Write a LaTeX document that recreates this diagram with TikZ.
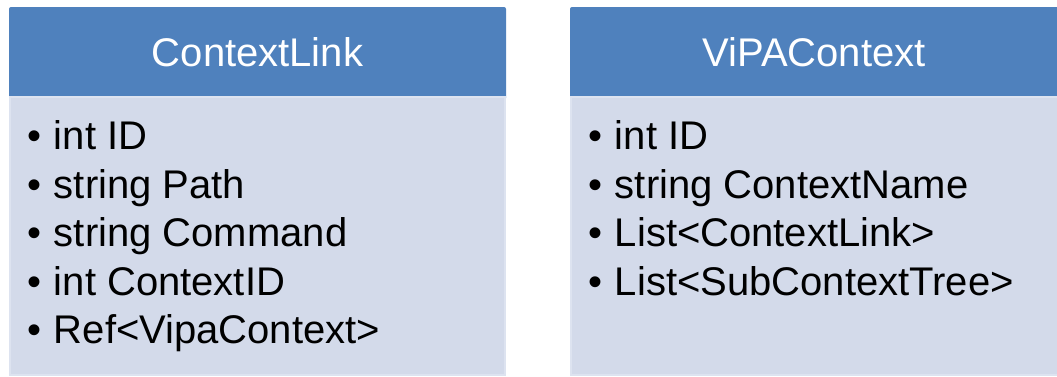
\documentclass[tikz,border=0pt]{standalone}
\usepackage{fontspec}
\setmainfont{Liberation Sans}

\definecolor{headblue}{HTML}{4F81BD}
\definecolor{bodyblue}{HTML}{D3DAEA}
\definecolor{bodyedge}{HTML}{DDE3F0}

\newcommand{\fieldbullet}{\makebox[20pt][l]{\textbullet}}

\begin{document}
\begin{tikzpicture}[x=0.75pt, y=-0.75pt,
    headbox/.style={fill=headblue, rounded corners=1.5pt},
    bodybox/.style={fill=bodyblue, draw=bodyedge, line width=1.2pt},
    title/.style={text=white, anchor=base, inner sep=0pt, font=\fontsize{30}{36}\selectfont},
    field/.style={anchor=base west, inner sep=0pt, font=\fontsize{30}{36}\selectfont}]
    \useasboundingbox (0,0) rectangle (1057,376);

    % Left class: ContextLink
    \fill[headbox] (9,7) rectangle (506,100);
    \filldraw[bodybox] (9.8,97) rectangle (505.2,375);
    \node[title] (linkTitle) at (257.5,66) {ContextLink};
    \foreach \txt [count=\i] in {int ID, string Path, string Command, int ContextID, Ref<VipaContext>}
        \node[field] (link\i) at (27,{101+48.5*\i}) {\fieldbullet\txt};

    % Right class: ViPAContext
    \fill[headbox] (570,7) rectangle (1060,100);
    \filldraw[bodybox] (570.8,97) rectangle (1060,375);
    \node[title] (vipaTitle) at (814,66) {ViPAContext};
    \foreach \txt [count=\i] in {int ID, string ContextName, List<ContextLink>, List<SubContextTree>}
        \node[field] (vipa\i) at (588,{101+48.5*\i}) {\fieldbullet\txt};
\end{tikzpicture}
\end{document}
